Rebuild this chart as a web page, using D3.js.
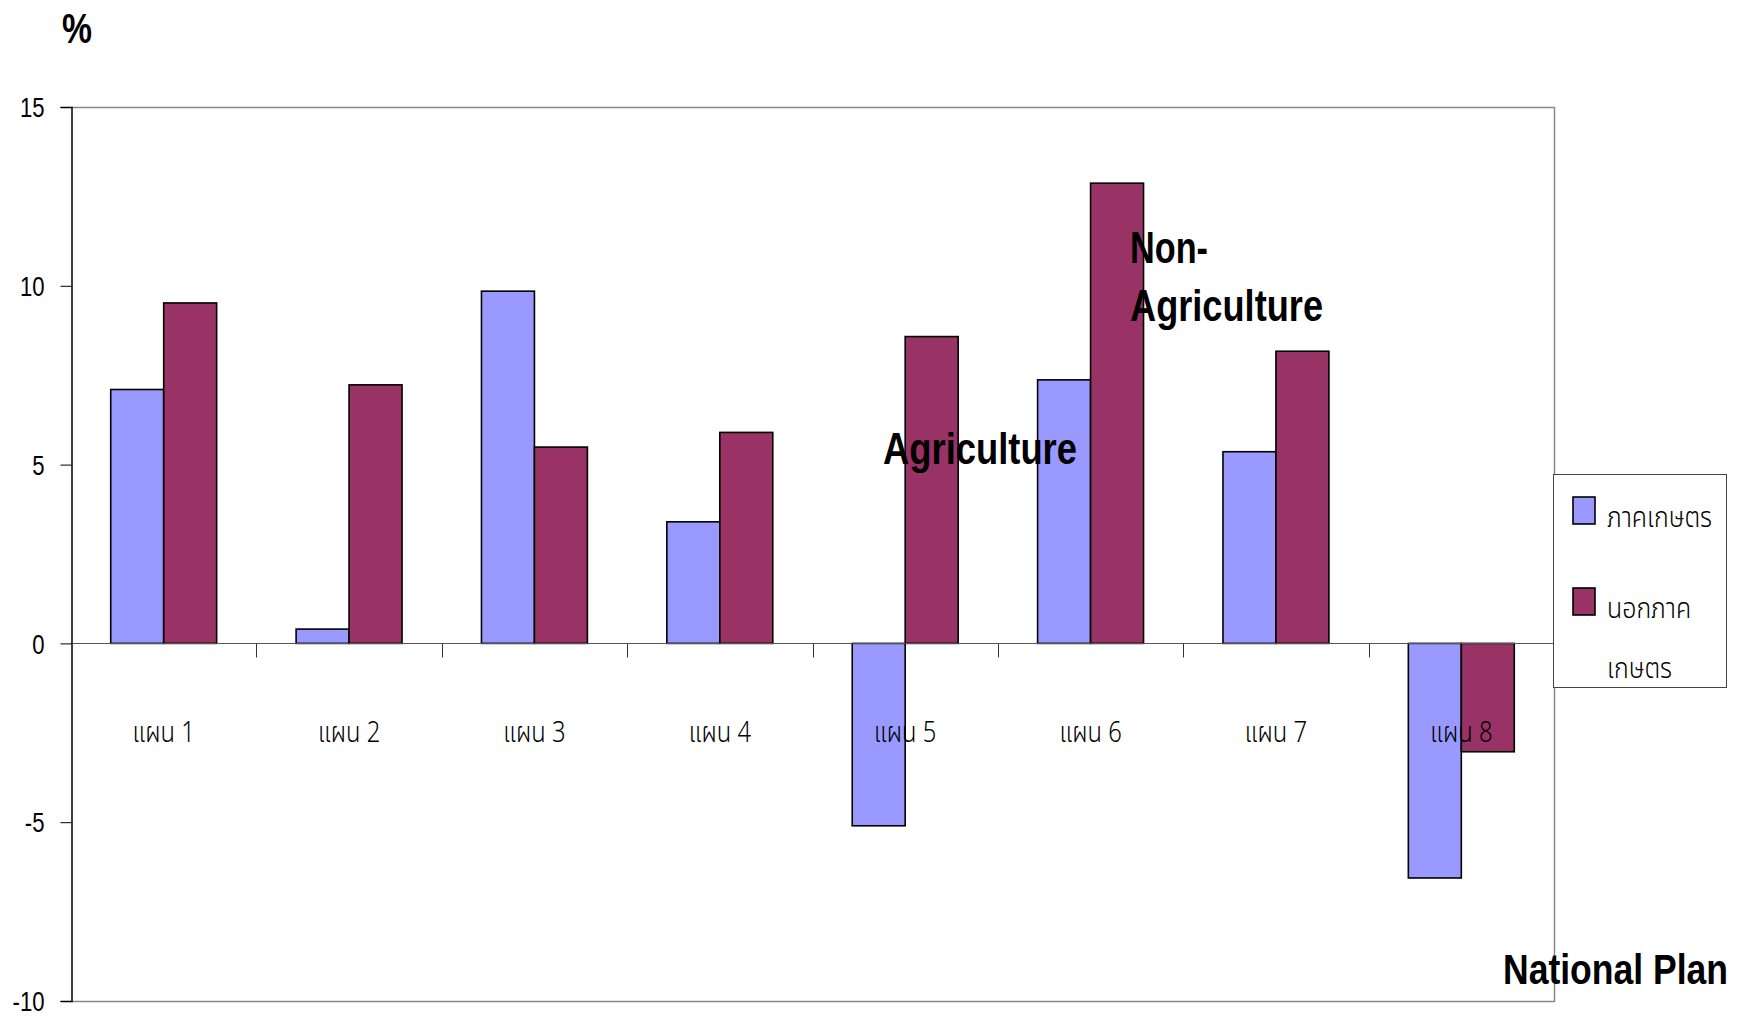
<!DOCTYPE html>
<html>
<head>
<meta charset="utf-8">
<script src="https://cdn.jsdelivr.net/npm/d3@7"></script>
<style>
  html, body { margin: 0; padding: 0; background: #fff; }
  svg { display: block; }
</style>
</head>
<body>
<svg id="chart" width="1748" height="1017"></svg>
<script>
// Growth rate (%) by National Plan, agriculture vs. non-agriculture
const categories = ["แผน 1", "แผน 2", "แผน 3", "แผน 4", "แผน 5", "แผน 6", "แผน 7", "แผน 8"];
const seriesNames = ["ภาคเกษตร", "นอกภาคเกษตร"];
const agriculture = [7.1, 0.4, 9.85, 3.4, -5.1, 7.37, 5.36, -6.56];
const nonAgriculture = [9.52, 7.23, 5.49, 5.9, 8.58, 12.87, 8.17, -3.03];
const yTicks = [15, 10, 5, 0, -5, -10];
const seriesColors = ["#9999FF", "#993366"];

const svg = d3.select("#chart");
const plot = { left: 71, right: 1554, top: 107, bottom: 1001 };

const thaiFont = "'Noto Sans Thai', 'Noto Sans Thai Looped', Loma, Garuda, Norasi, 'Liberation Sans', sans-serif";
const narrowFont = "'Liberation Sans', Arial, sans-serif";

const y = d3.scaleLinear().domain([-10, 15]).range([plot.bottom, plot.top]);
// group occupies 2 of 3.5 bar widths (150% gap), centred in each category slot
const x0 = d3.scaleBand().domain(categories).range([plot.left, plot.right])
  .paddingInner(1.5 / 3.5).paddingOuter(0.75 / 3.5);
const x1 = d3.scaleBand().domain(seriesNames).range([0, x0.bandwidth()]);

const rows = categories.map((c, i) => ({ cat: c, values: [agriculture[i], nonAgriculture[i]] }));

// plot frame: top, right and bottom edges in grey
svg.append("path")
  .attr("d", `M${plot.left},${plot.top + 0.5}H${plot.right + 0.5}V${plot.bottom + 0.5}H${plot.left}`)
  .attr("fill", "none").attr("stroke", "#888").attr("stroke-width", 1.5);

// bars
const groups = svg.append("g").selectAll("g").data(rows).join("g")
  .attr("transform", d => `translate(${x0(d.cat)},0)`);
groups.selectAll("rect")
  .data(d => d.values.map((v, j) => ({ key: seriesNames[j], v, j })))
  .join("rect")
  .attr("x", d => x1(d.key))
  .attr("width", x1.bandwidth())
  .attr("y", d => y(Math.max(0, d.v)))
  .attr("height", d => Math.abs(y(d.v) - y(0)))
  .attr("fill", d => seriesColors[d.j])
  .attr("stroke", "#000").attr("stroke-width", 1.6);

// zero line (category axis) with tick marks between categories
const zeroY = Math.round(y(0)) + 0.5;
svg.append("line")
  .attr("x1", plot.left).attr("x2", plot.right)
  .attr("y1", zeroY).attr("y2", zeroY)
  .attr("stroke", "#555").attr("stroke-width", 1);
const step = x0.step();
svg.append("g").selectAll("line").data(d3.range(1, categories.length))
  .join("line")
  .attr("x1", i => Math.round(plot.left + i * step) + 0.5)
  .attr("x2", i => Math.round(plot.left + i * step) + 0.5)
  .attr("y1", zeroY).attr("y2", zeroY + 14)
  .attr("stroke", "#333").attr("stroke-width", 1);

// value axis
const yAxis = svg.append("g")
  .attr("transform", `translate(${plot.left + 0.5},0)`)
  .call(d3.axisLeft(y).tickValues(yTicks).tickSize(11).tickPadding(16).tickFormat(d => String(d)));
yAxis.select(".domain").attr("stroke", "#000").attr("stroke-width", 1.5);
yAxis.selectAll(".tick line").attr("stroke", "#000");
yAxis.selectAll(".tick text")
  .attr("font-family", narrowFont).attr("font-size", 27).attr("fill", "#000")
  .attr("dy", "0.36em")
  .each(function () {
    const t = d3.select(this);
    const xx = +t.attr("x");
    t.attr("x", 0).attr("transform", `translate(${xx},0) scale(0.82,1)`);
  });

// category labels, placed below the zero line (condensed Thai text)
svg.append("g").selectAll("text").data(categories).join("text")
  .attr("transform", d => `translate(${x0(d) + x0.bandwidth() / 2},742) scale(0.82,1)`)
  .attr("text-anchor", "middle")
  .attr("font-family", thaiFont).attr("font-size", 29).attr("font-weight", 300)
  .attr("fill", "#000")
  .text(d => d);

// bold condensed captions
function caption(text, x, yy, size, width) {
  svg.append("text")
    .attr("x", x).attr("y", yy)
    .attr("font-family", narrowFont).attr("font-weight", "bold").attr("font-size", size)
    .attr("textLength", width).attr("lengthAdjust", "spacingAndGlyphs")
    .attr("fill", "#000")
    .text(text);
}
caption("%", 62, 43, 42, 30);
caption("Agriculture", 883, 464, 45, 194);
caption("Non-", 1130, 263, 45, 78);
caption("Agriculture", 1130, 321, 45, 193);
caption("National Plan", 1503, 984, 43, 225);

// legend
const legend = svg.append("g");
legend.append("rect")
  .attr("x", 1553.5).attr("y", 474.5).attr("width", 173).attr("height", 213)
  .attr("fill", "#fff").attr("stroke", "#444").attr("stroke-width", 1);
const legendRows = [
  { color: seriesColors[0], sy: 497, lines: ["ภาคเกษตร"], ty: [527] },
  { color: seriesColors[1], sy: 588, lines: ["นอกภาค", "เกษตร"], ty: [618, 678] }
];
legendRows.forEach(r => {
  legend.append("rect")
    .attr("x", 1573).attr("y", r.sy).attr("width", 22).attr("height", 27)
    .attr("fill", r.color).attr("stroke", "#000").attr("stroke-width", 1.6);
  r.lines.forEach((ln, k) => {
    legend.append("text")
      .attr("transform", `translate(1607,${r.ty[k]}) scale(0.86,1)`)
      .attr("font-family", thaiFont).attr("font-size", 29).attr("font-weight", 300)
      .attr("fill", "#000")
      .text(ln);
  });
});
</script>
</body>
</html>
